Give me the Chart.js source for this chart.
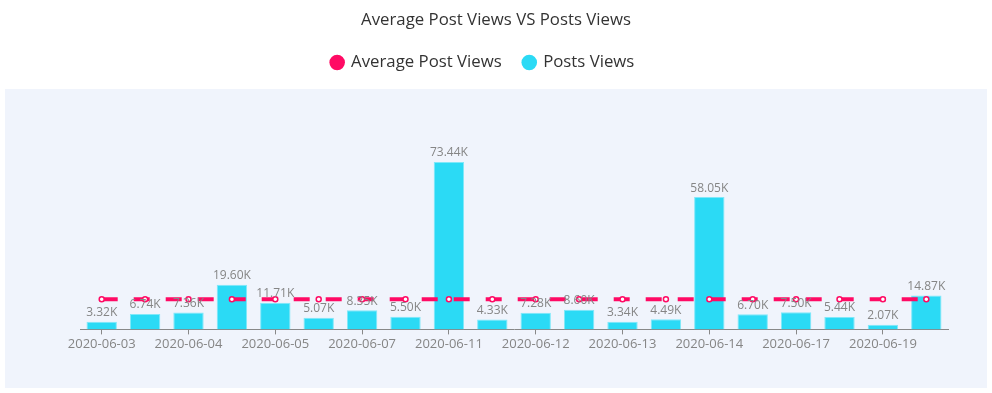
<!DOCTYPE html>
<html>
<head>
<meta charset="utf-8">
<script src="https://cdn.jsdelivr.net/npm/chart.js@4/dist/chart.umd.min.js"></script>
<style>
    html, body { margin: 0; padding: 0; background: #fff; }
    #wrap { position: relative; width: 992px; height: 393px; }
    #panel { position: absolute; left: 5px; top: 89px; width: 982px; height: 299px; background: #f0f4fc; }
    #chart { position: absolute; left: 0; top: 0; }
</style>
</head>
<body>
<div id="wrap">
    <div id="panel"></div>
    <canvas id="chart" width="992" height="393"></canvas>
</div>
<script>
// --- data ---
const postDates = [
    '2020-06-03', '2020-06-03', '2020-06-04', '2020-06-04', '2020-06-05',
    '2020-06-06', '2020-06-07', '2020-06-09', '2020-06-11', '2020-06-11',
    '2020-06-12', '2020-06-12', '2020-06-13', '2020-06-13', '2020-06-14',
    '2020-06-16', '2020-06-17', '2020-06-18', '2020-06-19', '2020-06-20'
];
const postViews = [
    3320, 6740, 7360, 19600, 11710, 5070, 8350, 5500, 73440, 4330,
    7280, 8600, 3340, 4490, 58050, 6700, 7500, 5440, 2070, 14870
];
const averageViews = [
    13190, 13190, 13190, 13190, 13190, 13190, 13190, 13190, 13190, 13190,
    13190, 13190, 13190, 13190, 13190, 13190, 13190, 13190, 13190, 13190
];

const PINK = '#ff0a64';
const CYAN = '#2bdaf5';
const FONT = '"Open Sans", Lato, sans-serif';

// legend sits a little left of the title in the original
const legendShift = {
    id: 'legendShift',
    afterLayout(chart) {
        chart.legend.left -= 13;
        chart.legend.right -= 13;
    }
};

// labels above the bars
const barLabels = {
    id: 'barLabels',
    afterDatasetsDraw(chart) {
        const meta = chart.getDatasetMeta(1);
        const ctx = chart.ctx;
        ctx.save();
        ctx.font = '12px ' + FONT;
        ctx.fillStyle = '#858585';
        ctx.textAlign = 'center';
        ctx.textBaseline = 'bottom';
        meta.data.forEach((bar, i) => {
            const v = chart.data.datasets[1].data[i];
            ctx.fillText((v / 1000).toFixed(2) + 'K', bar.x, bar.y - 3);
        });
        ctx.restore();
    }
};

const ctx = document.getElementById('chart').getContext('2d');
new Chart(ctx, {
    type: 'bar',
    data: {
        labels: postDates,
        datasets: [
            {
                type: 'line',
                label: 'Average Post Views',
                data: averageViews,
                borderColor: PINK,
                backgroundColor: PINK,
                borderWidth: 4,
                borderDash: [16, 16],
                pointRadius: 2.5,
                pointBorderWidth: 1.5,
                pointBackgroundColor: '#fff',
                pointBorderColor: PINK,
                order: 0
            },
            {
                label: 'Posts Views',
                data: postViews,
                backgroundColor: CYAN,
                borderColor: '#7fe8f9',
                borderWidth: 1,
                barPercentage: 0.7,
                categoryPercentage: 1,
                order: 1
            }
        ]
    },
    options: {
        responsive: false,
        animation: false,
        layout: { padding: { left: 44, right: 44, top: 2, bottom: 39 } },
        plugins: {
            title: {
                display: true,
                text: 'Average Post Views VS Posts Views',
                color: '#333',
                font: { family: FONT, size: 16.8, weight: 'normal' },
                padding: { top: 8, bottom: 2 }
            },
            legend: {
                position: 'top',
                labels: {
                    usePointStyle: true,
                    boxWidth: 11,
                    boxHeight: 11,
                    padding: 22,
                    color: '#333',
                    font: { family: FONT, size: 16.8 },
                    generateLabels(chart) {
                        const items = Chart.defaults.plugins.legend.labels.generateLabels(chart);
                        return items.map((it, i) => {
                            const c = i === 0 ? PINK : CYAN;
                            return Object.assign(it, { fillStyle: c, strokeStyle: c, lineWidth: 0, lineDash: [], pointStyle: 'circle' });
                        });
                    }
                }
            },
            tooltip: { enabled: false }
        },
        scales: {
            x: {
                ticks: { color: '#858585', font: { family: FONT, size: 13 }, maxRotation: 0, autoSkip: true, padding: 2 },
                grid: { display: true, offset: false, drawOnChartArea: false, drawTicks: true, tickLength: 5, color: '#888' },
                border: { color: '#888' }
            },
            y: {
                min: 0, max: 109000,
                ticks: { display: false },
                grid: { display: false },
                border: { display: false },
                afterFit(scale) { scale.width = 36; }
            }
        }
    },
    plugins: [legendShift, barLabels]
});
</script>
</body>
</html>
